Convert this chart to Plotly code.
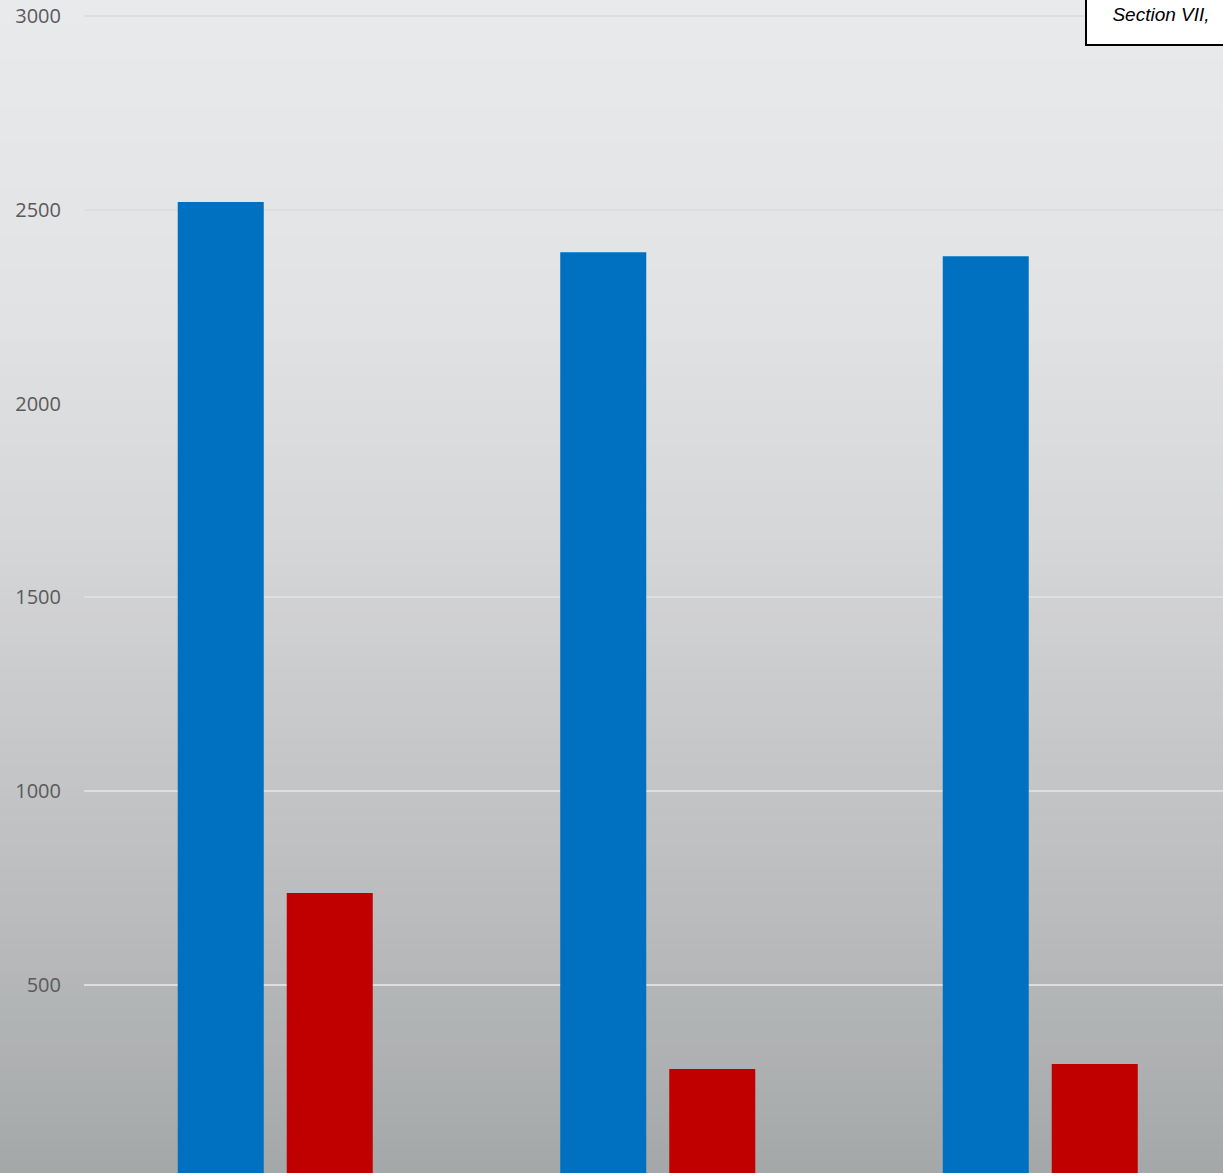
import plotly.graph_objects as go

# Data
categories = ["Group 1", "Group 2", "Group 3"]
series_a = [2520, 2390, 2380]
series_b = [737, 283, 296]
y_ticks = [500, 1000, 1500, 2000, 2500, 3000]

W, H = 1223, 1173
ML = 84

# Vertical background gradient (top -> bottom) as stacked strips
stops = [
    (0.00, (233, 234, 236)),
    (0.25, (226, 227, 229)),
    (0.45, (214, 215, 217)),
    (0.60, (201, 202, 204)),
    (0.77, (186, 188, 189)),
    (1.00, (165, 168, 169)),
]


def grad_color(t):
    for (t0, c0), (t1, c1) in zip(stops[:-1], stops[1:]):
        if t0 <= t <= t1:
            f = (t - t0) / (t1 - t0)
            return "rgb(%d,%d,%d)" % tuple(round(a + (b - a) * f) for a, b in zip(c0, c1))
    return "rgb(%d,%d,%d)" % stops[-1][1]


n_strips = 100
shapes = []
for i in range(n_strips):
    y1 = 1 - i / n_strips
    y0 = 1 - (i + 1) / n_strips
    shapes.append(dict(
        type="rect", xref="paper", yref="paper",
        x0=-ML / (W - ML), x1=1, y0=y0 - 0.001, y1=y1,
        fillcolor=grad_color((i + 0.5) / n_strips),
        line=dict(width=0), layer="below",
    ))

fig = go.Figure()
fig.add_trace(go.Bar(x=categories, y=series_a, name="Series A",
                     marker=dict(color="#0071c1", line=dict(width=0))))
fig.add_trace(go.Bar(x=categories, y=series_b, name="Series B",
                     marker=dict(color="#c00000", line=dict(width=0))))

fig.update_layout(
    width=W, height=H,
    margin=dict(l=ML, r=0, t=0, b=0),
    paper_bgcolor="rgba(0,0,0,0)",
    plot_bgcolor="rgba(0,0,0,0)",
    barmode="group",
    bargap=0.43,
    bargroupgap=0.211,
    showlegend=False,
    shapes=shapes,
    xaxis=dict(
        range=[-0.5, -0.5 + (W - ML) / 382.5],
        showticklabels=False, showgrid=False, zeroline=False, showline=False,
        ticks="",
    ),
    yaxis=dict(
        range=[15, 3041],
        tickvals=y_ticks,
        ticktext=[str(v) for v in y_ticks],
        showgrid=True, gridcolor="#dedede", gridwidth=2,
        zeroline=False, showline=False, ticks="",
        ticklabelstandoff=22,
        tickfont=dict(family="Open Sans", size=20, color="#5a5a5a"),
    ),
    annotations=[dict(
        xref="paper", yref="paper",
        x=(1085 - ML) / (W - ML), y=1 - 14 / H,
        xanchor="left", yanchor="middle",
        text="<i>Section VII,</i>",
        showarrow=False,
        font=dict(family="Liberation Sans", size=19, color="#000000"),
        bgcolor="#ffffff", bordercolor="#000000", borderwidth=2, borderpad=2,
        width=144, height=56, align="center", valign="middle",
    )],
)

fig.write_html("out.html")
